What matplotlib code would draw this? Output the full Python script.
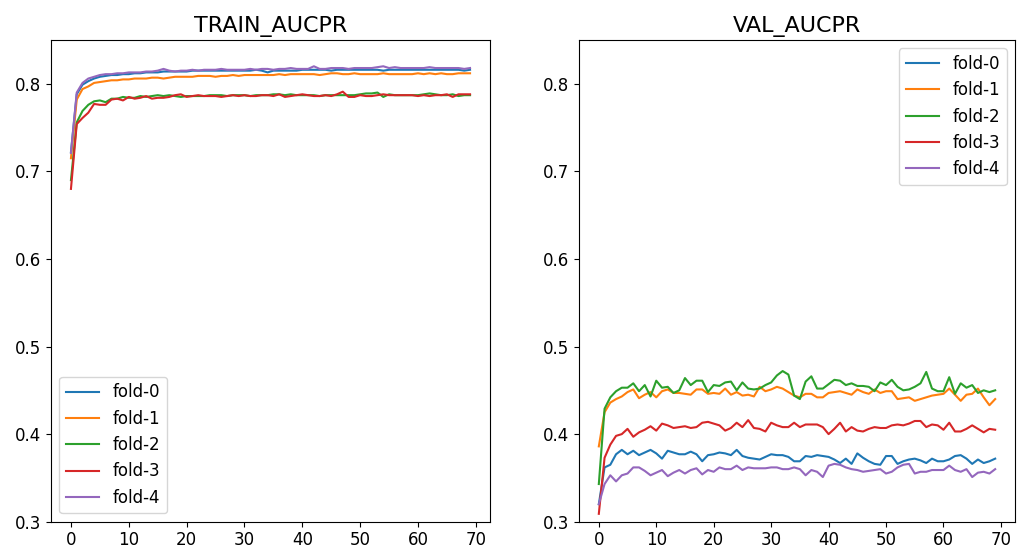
import matplotlib
matplotlib.use("Agg")
import matplotlib.pyplot as plt

epochs = list(range(70))
fold_names = ["fold-0", "fold-1", "fold-2", "fold-3", "fold-4"]
titles = ["TRAIN_AUCPR", "VAL_AUCPR"]

train_fold0 = [0.722, 0.788, 0.799, 0.803, 0.806, 0.808, 0.809, 0.810, 0.810, 0.811,
               0.811, 0.812, 0.812, 0.813, 0.813, 0.813, 0.814, 0.814, 0.814, 0.814,
               0.814, 0.815, 0.815, 0.815, 0.815, 0.815, 0.815, 0.815, 0.815, 0.815,
               0.815, 0.815, 0.816, 0.815, 0.813, 0.815, 0.815, 0.815, 0.815, 0.815,
               0.816, 0.816, 0.816, 0.816, 0.816, 0.815, 0.816, 0.816, 0.816, 0.816,
               0.816, 0.816, 0.816, 0.816, 0.815, 0.816, 0.816, 0.816, 0.816, 0.816,
               0.816, 0.816, 0.816, 0.816, 0.816, 0.816, 0.816, 0.816, 0.815, 0.816]
train_fold1 = [0.715, 0.782, 0.794, 0.797, 0.801, 0.802, 0.803, 0.804, 0.804, 0.805,
               0.805, 0.806, 0.806, 0.806, 0.807, 0.807, 0.806, 0.807, 0.808, 0.808,
               0.808, 0.808, 0.809, 0.809, 0.809, 0.808, 0.809, 0.809, 0.810, 0.809,
               0.810, 0.810, 0.810, 0.810, 0.810, 0.810, 0.811, 0.810, 0.811, 0.811,
               0.811, 0.811, 0.811, 0.810, 0.811, 0.812, 0.812, 0.811, 0.811, 0.812,
               0.811, 0.811, 0.811, 0.811, 0.812, 0.811, 0.811, 0.811, 0.811, 0.811,
               0.812, 0.811, 0.812, 0.811, 0.812, 0.811, 0.811, 0.812, 0.812, 0.812]
train_fold2 = [0.690, 0.756, 0.769, 0.776, 0.780, 0.781, 0.779, 0.783, 0.783, 0.785,
               0.784, 0.784, 0.786, 0.785, 0.786, 0.787, 0.786, 0.787, 0.786, 0.785,
               0.786, 0.786, 0.786, 0.786, 0.787, 0.787, 0.787, 0.786, 0.787, 0.787,
               0.787, 0.786, 0.787, 0.787, 0.787, 0.788, 0.788, 0.787, 0.788, 0.787,
               0.787, 0.787, 0.787, 0.786, 0.787, 0.787, 0.787, 0.787, 0.787, 0.787,
               0.788, 0.789, 0.789, 0.790, 0.785, 0.788, 0.787, 0.787, 0.787, 0.787,
               0.787, 0.788, 0.789, 0.788, 0.787, 0.787, 0.788, 0.786, 0.787, 0.787]
train_fold3 = [0.680, 0.754, 0.761, 0.767, 0.777, 0.776, 0.776, 0.782, 0.783, 0.781,
               0.785, 0.783, 0.784, 0.786, 0.783, 0.784, 0.784, 0.785, 0.787, 0.788,
               0.785, 0.786, 0.787, 0.786, 0.786, 0.786, 0.785, 0.786, 0.787, 0.786,
               0.787, 0.786, 0.786, 0.787, 0.787, 0.786, 0.788, 0.785, 0.786, 0.787,
               0.788, 0.787, 0.786, 0.786, 0.787, 0.786, 0.788, 0.791, 0.785, 0.785,
               0.787, 0.786, 0.786, 0.787, 0.788, 0.787, 0.787, 0.787, 0.787, 0.787,
               0.786, 0.787, 0.786, 0.787, 0.787, 0.788, 0.785, 0.788, 0.788, 0.788]
train_fold4 = [0.721, 0.790, 0.801, 0.806, 0.808, 0.810, 0.811, 0.811, 0.812, 0.812,
               0.813, 0.813, 0.813, 0.814, 0.814, 0.815, 0.817, 0.815, 0.814, 0.815,
               0.815, 0.816, 0.815, 0.816, 0.816, 0.816, 0.817, 0.816, 0.816, 0.816,
               0.816, 0.817, 0.816, 0.817, 0.817, 0.816, 0.817, 0.817, 0.818, 0.817,
               0.817, 0.817, 0.820, 0.817, 0.817, 0.818, 0.818, 0.818, 0.817, 0.818,
               0.818, 0.818, 0.818, 0.819, 0.820, 0.818, 0.819, 0.818, 0.818, 0.818,
               0.818, 0.818, 0.819, 0.818, 0.818, 0.818, 0.818, 0.818, 0.817, 0.818]

val_fold0 = [0.320, 0.362, 0.365, 0.377, 0.382, 0.377, 0.381, 0.376, 0.379, 0.382,
             0.378, 0.372, 0.381, 0.379, 0.377, 0.377, 0.380, 0.377, 0.369, 0.376,
             0.377, 0.379, 0.378, 0.376, 0.382, 0.375, 0.373, 0.372, 0.371, 0.374,
             0.377, 0.376, 0.376, 0.374, 0.369, 0.369, 0.375, 0.374, 0.376, 0.375,
             0.374, 0.371, 0.367, 0.372, 0.366, 0.378, 0.373, 0.369, 0.366, 0.365,
             0.375, 0.375, 0.366, 0.369, 0.371, 0.372, 0.370, 0.367, 0.372, 0.369,
             0.369, 0.371, 0.375, 0.376, 0.372, 0.366, 0.371, 0.367, 0.369, 0.372]
val_fold1 = [0.386, 0.425, 0.436, 0.440, 0.443, 0.448, 0.451, 0.441, 0.445, 0.448,
             0.442, 0.449, 0.451, 0.447, 0.447, 0.446, 0.445, 0.451, 0.451, 0.446,
             0.447, 0.446, 0.452, 0.445, 0.448, 0.444, 0.445, 0.443, 0.454, 0.449,
             0.451, 0.454, 0.452, 0.448, 0.444, 0.442, 0.446, 0.446, 0.442, 0.442,
             0.447, 0.448, 0.449, 0.447, 0.445, 0.451, 0.448, 0.446, 0.451, 0.447,
             0.449, 0.449, 0.440, 0.441, 0.442, 0.438, 0.440, 0.442, 0.444, 0.445,
             0.446, 0.452, 0.445, 0.438, 0.445, 0.446, 0.452, 0.442, 0.433, 0.440]
val_fold2 = [0.343, 0.429, 0.442, 0.449, 0.453, 0.453, 0.458, 0.449, 0.456, 0.443,
             0.461, 0.453, 0.454, 0.447, 0.450, 0.464, 0.456, 0.461, 0.461, 0.448,
             0.456, 0.455, 0.459, 0.460, 0.450, 0.459, 0.452, 0.451, 0.452, 0.456,
             0.459, 0.467, 0.472, 0.468, 0.444, 0.440, 0.460, 0.466, 0.452, 0.452,
             0.457, 0.462, 0.461, 0.456, 0.458, 0.455, 0.455, 0.454, 0.449, 0.459,
             0.456, 0.462, 0.454, 0.450, 0.451, 0.454, 0.458, 0.471, 0.452, 0.449,
             0.449, 0.465, 0.446, 0.458, 0.453, 0.456, 0.447, 0.450, 0.448, 0.450]
val_fold3 = [0.309, 0.373, 0.388, 0.398, 0.400, 0.406, 0.397, 0.402, 0.405, 0.409,
             0.404, 0.412, 0.410, 0.407, 0.408, 0.409, 0.407, 0.408, 0.413, 0.414,
             0.412, 0.410, 0.404, 0.407, 0.413, 0.408, 0.416, 0.407, 0.406, 0.403,
             0.413, 0.410, 0.408, 0.408, 0.413, 0.408, 0.411, 0.411, 0.411, 0.408,
             0.400, 0.406, 0.413, 0.403, 0.408, 0.404, 0.403, 0.406, 0.408, 0.407,
             0.407, 0.410, 0.411, 0.410, 0.412, 0.415, 0.415, 0.408, 0.411, 0.410,
             0.405, 0.413, 0.403, 0.403, 0.406, 0.410, 0.406, 0.402, 0.406, 0.405]
val_fold4 = [0.320, 0.343, 0.353, 0.346, 0.353, 0.355, 0.362, 0.362, 0.358, 0.353,
             0.356, 0.359, 0.352, 0.356, 0.359, 0.355, 0.359, 0.361, 0.354, 0.359,
             0.357, 0.362, 0.360, 0.360, 0.364, 0.359, 0.362, 0.361, 0.361, 0.361,
             0.362, 0.362, 0.360, 0.360, 0.362, 0.360, 0.353, 0.359, 0.357, 0.351,
             0.364, 0.366, 0.365, 0.362, 0.360, 0.359, 0.357, 0.358, 0.359, 0.360,
             0.355, 0.357, 0.362, 0.365, 0.366, 0.355, 0.357, 0.357, 0.359, 0.359,
             0.359, 0.364, 0.359, 0.357, 0.360, 0.351, 0.356, 0.357, 0.355, 0.360]

train_series = [train_fold0, train_fold1, train_fold2, train_fold3, train_fold4]
val_series = [val_fold0, val_fold1, val_fold2, val_fold3, val_fold4]

plt.rcParams['font.family'] = ['DejaVu Sans']
plt.rcParams['font.size'] = 12

fig = plt.figure(figsize=(10.19, 5.5), dpi=100)
W, H = 1019, 550
ax1 = fig.add_axes([51 / W, (H - 521.7) / H, 439 / W, (521.7 - 40) / H])
ax2 = fig.add_axes([579 / W, (H - 521.7) / H, 436 / W, (521.7 - 40) / H])

for ax, series, title, loc in [(ax1, train_series, titles[0], 'lower left'),
                                (ax2, val_series, titles[1], 'upper right')]:
    for name, vals in zip(fold_names, series):
        ax.plot(epochs, vals, label=name, linewidth=1.5)
    ax.set_ylim(0.3, 0.85)
    ax.set_xticks([0, 10, 20, 30, 40, 50, 60, 70])
    ax.set_yticks([0.3, 0.4, 0.5, 0.6, 0.7, 0.8])
    ax.set_title(title, fontsize=16)
    ax.legend(loc=loc, fontsize=12)

fig.savefig("out.png", dpi=100)
